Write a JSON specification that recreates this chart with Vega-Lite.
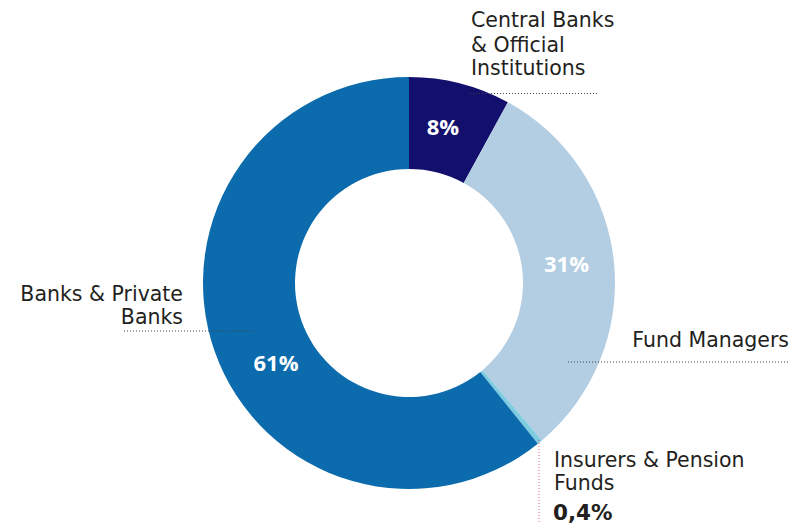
{
  "$schema": "https://vega.github.io/schema/vega-lite/v6.json",
  "width": 790,
  "height": 524,
  "padding": 0,
  "autosize": {"type": "none"},
  "background": "white",
  "config": {"view": {"stroke": null}},
  "datasets": {
    "shares": [
      {"segment": "Central Banks & Official Institutions", "share": 8, "idx": 1},
      {"segment": "Fund Managers", "share": 31, "idx": 2},
      {"segment": "Insurers & Pension Funds", "share": 0.4, "idx": 3},
      {"segment": "Banks & Private Banks", "share": 61, "idx": 4}
    ],
    "labelsLeft": [
      {"text": "Central Banks", "x": 0.3010, "y": 1.2427},
      {"text": "& Official", "x": 0.3010, "y": 1.1214},
      {"text": "Institutions", "x": 0.3010, "y": 1.0097},
      {"text": "Insurers & Pension", "x": 0.7039, "y": -0.8932},
      {"text": "Funds", "x": 0.7039, "y": -1.0049}
    ],
    "labelsRight": [
      {"text": "Fund Managers", "x": 1.8447, "y": -0.3107},
      {"text": "Banks & Private", "x": -1.0971, "y": -0.0874},
      {"text": "Banks", "x": -1.0971, "y": -0.1990}
    ],
    "pcts": [
      {"text": "8%", "x": 0.165, "y": 0.7524},
      {"text": "31%", "x": 0.7646, "y": 0.0898},
      {"text": "61%", "x": -0.6456, "y": -0.3956}
    ],
    "smallValue": [
      {"text": "0,4%", "x": 0.699, "y": -1.1505}
    ],
    "leaders": [
      {"x": 0.2961, "x2": 0.9223, "y": 0.9199},
      {"x": 0.7718, "x2": 1.8495, "y": -0.3835},
      {"x": -1.3835, "x2": -0.7476, "y": -0.2330}
    ],
    "vleader": [
      {"x": 0.6311, "y": -0.7621, "y2": -1.1699}
    ]
  },
  "resolve": {"scale": {"x": "shared", "y": "shared"}},
  "layer": [
    {
      "data": {"name": "shares"},
      "mark": {"type": "arc", "innerRadius": 114, "outerRadius": 206},
      "encoding": {
        "theta": {"field": "share", "type": "quantitative", "stack": true},
        "order": {"field": "idx", "type": "quantitative"},
        "color": {
          "field": "segment",
          "type": "nominal",
          "scale": {
            "domain": ["Central Banks & Official Institutions", "Fund Managers", "Insurers & Pension Funds", "Banks & Private Banks"],
            "range": ["#13106d", "#b3cde3", "#7ecce0", "#0b6bad"]
          },
          "legend": null
        },
        "x": {"datum": 0, "type": "quantitative", "scale": {"domain": [-1.9854, 1.8495], "nice": false, "zero": false}, "axis": null},
        "y": {"datum": 0, "type": "quantitative", "scale": {"domain": [-1.1699, 1.3738], "nice": false, "zero": false}, "axis": null}
      }
    },
    {
      "data": {"name": "leaders"},
      "mark": {"type": "rule", "color": "#444444", "strokeWidth": 1, "strokeDash": [1, 2]},
      "encoding": {
        "x": {"field": "x", "type": "quantitative", "axis": null},
        "x2": {"field": "x2"},
        "y": {"field": "y", "type": "quantitative", "axis": null}
      }
    },
    {
      "data": {"name": "vleader"},
      "mark": {"type": "rule", "color": "#e0607a", "strokeWidth": 1, "strokeDash": [1, 2]},
      "encoding": {
        "x": {"field": "x", "type": "quantitative", "axis": null},
        "y": {"field": "y", "type": "quantitative", "axis": null},
        "y2": {"field": "y2"}
      }
    },
    {
      "data": {"name": "labelsLeft"},
      "mark": {"type": "text", "align": "left", "baseline": "alphabetic", "font": "DejaVu Sans", "fontSize": 20.5, "color": "#231f20"},
      "encoding": {
        "x": {"field": "x", "type": "quantitative", "axis": null},
        "y": {"field": "y", "type": "quantitative", "axis": null},
        "text": {"field": "text"}
      }
    },
    {
      "data": {"name": "labelsRight"},
      "mark": {"type": "text", "align": "right", "baseline": "alphabetic", "font": "DejaVu Sans", "fontSize": 20.5, "color": "#231f20"},
      "encoding": {
        "x": {"field": "x", "type": "quantitative", "axis": null},
        "y": {"field": "y", "type": "quantitative", "axis": null},
        "text": {"field": "text"}
      }
    },
    {
      "data": {"name": "pcts"},
      "mark": {"type": "text", "align": "center", "baseline": "middle", "font": "Open Sans", "fontSize": 22, "fontWeight": "bold", "color": "white"},
      "encoding": {
        "x": {"field": "x", "type": "quantitative", "axis": null},
        "y": {"field": "y", "type": "quantitative", "axis": null},
        "text": {"field": "text"}
      }
    },
    {
      "data": {"name": "smallValue"},
      "mark": {"type": "text", "align": "left", "baseline": "alphabetic", "font": "DejaVu Sans", "fontSize": 21.5, "fontWeight": "bold", "color": "#231f20"},
      "encoding": {
        "x": {"field": "x", "type": "quantitative", "axis": null},
        "y": {"field": "y", "type": "quantitative", "axis": null},
        "text": {"field": "text"}
      }
    }
  ]
}
